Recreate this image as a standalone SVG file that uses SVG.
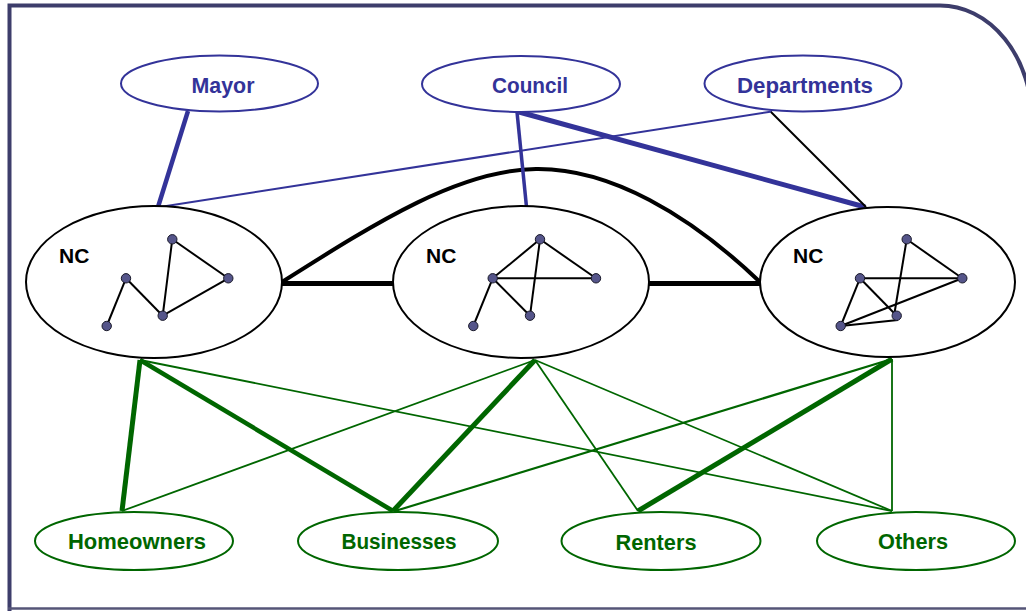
<svg xmlns="http://www.w3.org/2000/svg" width="1026" height="611" viewBox="0 0 1026 611">
<style>
.lbl{font-family:"Liberation Sans",Arial,sans-serif;font-weight:bold;font-size:22px;text-anchor:middle}
.blue{fill:#333399}
.green{fill:#006600}
.nc{font-family:"Liberation Sans",Arial,sans-serif;font-weight:bold;font-size:21px;fill:#000}
.eb{fill:#fff;stroke:#333399;stroke-width:2}
.eg{fill:#fff;stroke:#006600;stroke-width:2}
.en{fill:#fff;stroke:#000;stroke-width:2}
.in line{stroke:#000;stroke-width:2}
.in circle{fill:#55558a;stroke:#1a1a2a;stroke-width:1}
.cb{stroke:#333399;fill:none}
.cg{stroke:#006600;fill:none}
.ck{stroke:#000;fill:none}
</style>
<rect width="1026" height="611" fill="#fff"/>
<g id="frame" fill="none" stroke="#3d3d6b">
<path d="M9.5,611 L9.5,5.5 L940,5.5 A92,115 0 0 1 1032,120" stroke-width="4"/>
<line x1="8" y1="608.5" x2="1026" y2="608.5" stroke-width="2.5" stroke="#555577"/>
</g>
<g id="connectors">
<line class="ck" x1="282" y1="283.5" x2="394" y2="283.5" stroke-width="5"/>
<line class="ck" x1="648" y1="283.5" x2="761" y2="283.5" stroke-width="5"/>
<path class="ck" d="M282,282 C380,220 460,170 536,169 C610,168 690,215 760,282" stroke-width="4"/>
<line class="cb" x1="188" y1="111" x2="158" y2="207" stroke-width="4.5"/>
<line class="cb" x1="160" y1="207" x2="772" y2="111.5" stroke-width="2"/>
<line class="cb" x1="517" y1="112" x2="526.5" y2="207" stroke-width="3.5"/>
<line class="cb" x1="519" y1="112" x2="865" y2="207" stroke-width="5"/>
<line class="ck" x1="771" y1="112" x2="866" y2="207" stroke-width="2"/>
<line class="cg" x1="140" y1="360" x2="122" y2="511" stroke-width="5"/>
<line class="cg" x1="140" y1="360" x2="393" y2="511" stroke-width="4.5"/>
<line class="cg" x1="140" y1="360" x2="892" y2="511" stroke-width="1.8"/>
<line class="cg" x1="535" y1="360" x2="122" y2="511" stroke-width="1.8"/>
<line class="cg" x1="535" y1="360" x2="393" y2="511" stroke-width="5"/>
<line class="cg" x1="535" y1="360" x2="638" y2="511" stroke-width="1.8"/>
<line class="cg" x1="535" y1="360" x2="892" y2="511" stroke-width="1.8"/>
<line class="cg" x1="892" y1="359" x2="395" y2="511" stroke-width="2.2"/>
<line class="cg" x1="892" y1="359" x2="638" y2="511" stroke-width="5"/>
<line class="cg" x1="892" y1="359" x2="892" y2="511" stroke-width="1.8"/>
</g>
<g id="mayor">
<ellipse class="eb" cx="219.5" cy="83.5" rx="98.5" ry="28"/>
<text class="lbl blue" x="223" y="92.5" textLength="63" lengthAdjust="spacingAndGlyphs">Mayor</text>
</g>
<g id="council">
<ellipse class="eb" cx="521" cy="84" rx="99" ry="28"/>
<text class="lbl blue" x="530" y="92.5" textLength="76" lengthAdjust="spacingAndGlyphs">Council</text>
</g>
<g id="departments">
<ellipse class="eb" cx="803" cy="83.5" rx="98.5" ry="28"/>
<text class="lbl blue" x="805" y="92.5" textLength="136" lengthAdjust="spacingAndGlyphs">Departments</text>
</g>
<g id="nc1">
<ellipse class="en" cx="154" cy="282" rx="128" ry="76"/>
<text class="nc" x="59" y="262.5">NC</text>
<g class="in">
<line x1="106.7" y1="326" x2="126" y2="278.3"/>
<line x1="126" y1="278.3" x2="162.7" y2="315.7"/>
<line x1="162.7" y1="315.7" x2="172.3" y2="239.3"/>
<line x1="172.3" y1="239.3" x2="228.3" y2="278.3"/>
<line x1="228.3" y1="278.3" x2="162.7" y2="315.7"/>
<circle cx="172.3" cy="239.3" r="4.7"/>
<circle cx="126" cy="278.3" r="4.7"/>
<circle cx="228.3" cy="278.3" r="4.7"/>
<circle cx="162.7" cy="315.7" r="4.7"/>
<circle cx="106.7" cy="326" r="4.7"/>
</g>
</g>
<g id="nc2">
<ellipse class="en" cx="521" cy="282" rx="128" ry="76"/>
<text class="nc" x="426" y="262.5">NC</text>
<g class="in">
<line x1="540" y1="239.3" x2="492.7" y2="278.3"/>
<line x1="540" y1="239.3" x2="596" y2="278.3"/>
<line x1="492.7" y1="278.3" x2="596" y2="278.3"/>
<line x1="540" y1="239.3" x2="530" y2="315.7"/>
<line x1="492.7" y1="278.3" x2="530" y2="315.7"/>
<line x1="492.7" y1="278.3" x2="473.3" y2="326"/>
<circle cx="540" cy="239.3" r="4.7"/>
<circle cx="492.7" cy="278.3" r="4.7"/>
<circle cx="596" cy="278.3" r="4.7"/>
<circle cx="530" cy="315.7" r="4.7"/>
<circle cx="473.3" cy="326" r="4.7"/>
</g>
</g>
<g id="nc3">
<ellipse class="en" cx="887.5" cy="282" rx="127.5" ry="75"/>
<text class="nc" x="793" y="262.5">NC</text>
<g class="in">
<line x1="906.7" y1="239.3" x2="962.3" y2="278.3"/>
<line x1="860" y1="278.3" x2="962.3" y2="278.3"/>
<line x1="906.7" y1="239.3" x2="894" y2="316"/>
<line x1="860" y1="278.3" x2="896.7" y2="315.7"/>
<line x1="860" y1="278.3" x2="840.7" y2="326"/>
<line x1="840.7" y1="326" x2="962.3" y2="278.3"/>
<line x1="840.7" y1="326" x2="898" y2="320"/>
<circle cx="906.7" cy="239.3" r="4.7"/>
<circle cx="860" cy="278.3" r="4.7"/>
<circle cx="962.3" cy="278.3" r="4.7"/>
<circle cx="896.7" cy="315.7" r="4.7"/>
<circle cx="840.7" cy="326" r="4.7"/>
</g>
</g>
<g id="homeowners">
<ellipse class="eg" cx="134" cy="541" rx="99" ry="29"/>
<text class="lbl green" x="137" y="549" textLength="138" lengthAdjust="spacingAndGlyphs">Homeowners</text>
</g>
<g id="businesses">
<ellipse class="eg" cx="398" cy="541" rx="100" ry="29"/>
<text class="lbl green" x="399" y="549" textLength="115" lengthAdjust="spacingAndGlyphs">Businesses</text>
</g>
<g id="renters">
<ellipse class="eg" cx="661" cy="541" rx="99.5" ry="29"/>
<text class="lbl green" x="656" y="549.5" textLength="81" lengthAdjust="spacingAndGlyphs">Renters</text>
</g>
<g id="others">
<ellipse class="eg" cx="916" cy="541" rx="99" ry="29"/>
<text class="lbl green" x="913" y="548.5" textLength="70" lengthAdjust="spacingAndGlyphs">Others</text>
</g>
</svg>
